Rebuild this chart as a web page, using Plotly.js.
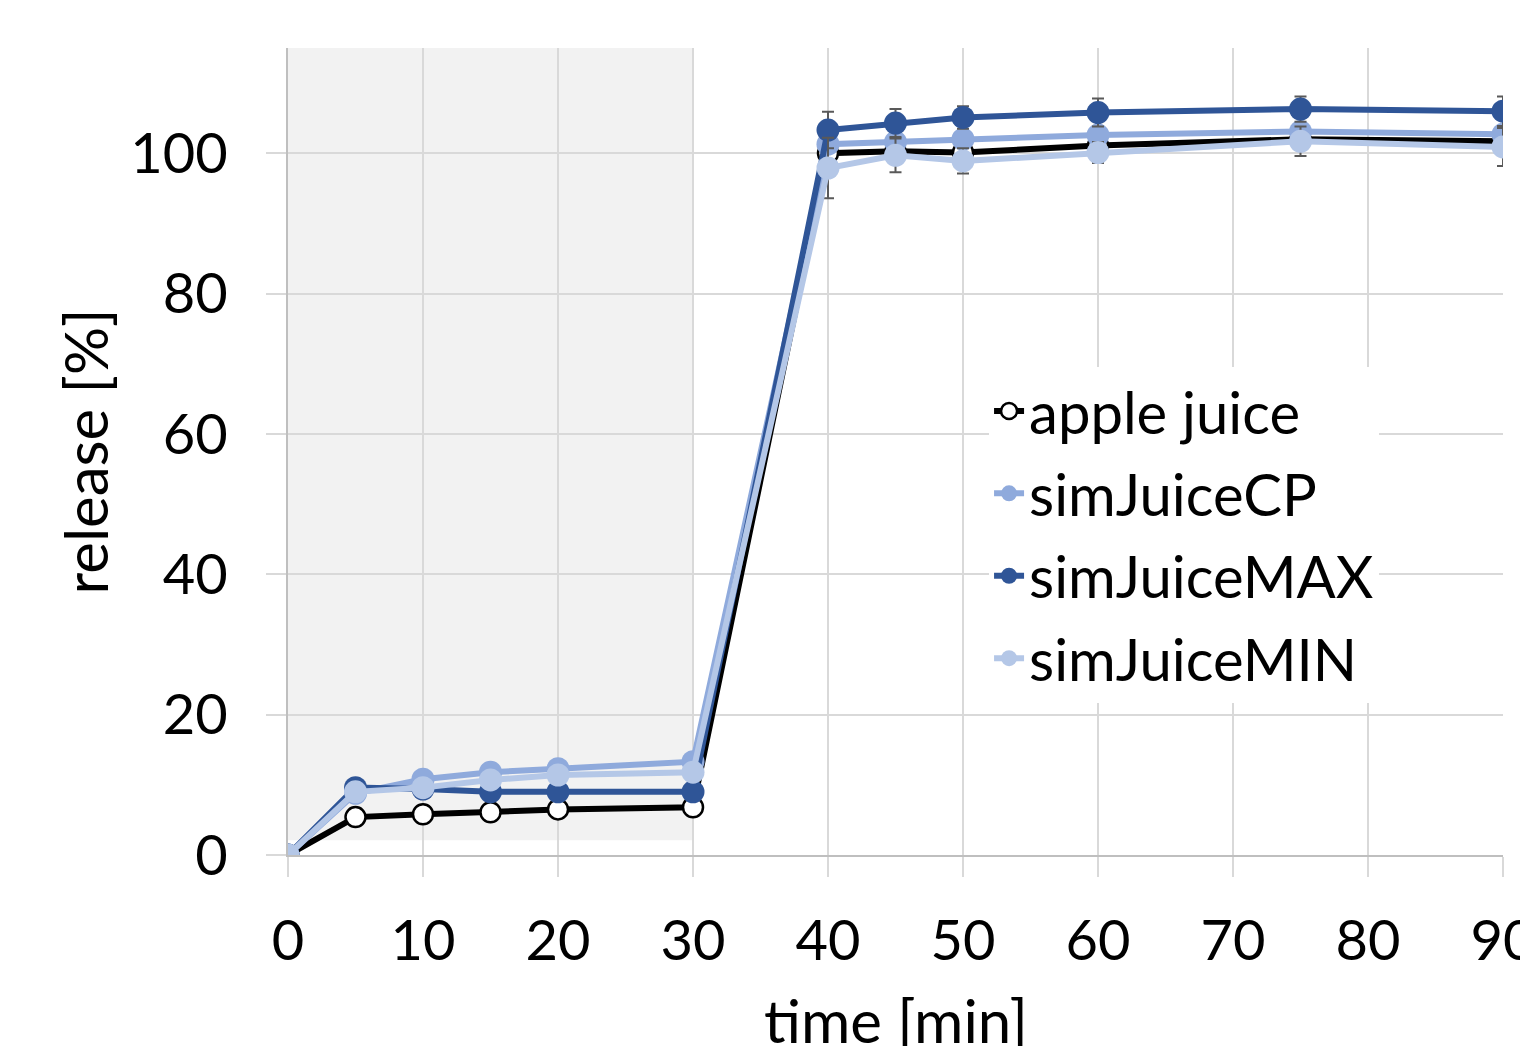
<!DOCTYPE html>
<html>
<head>
<meta charset="utf-8">
<script src="https://cdn.plot.ly/plotly-3.0.1.min.js"></script>
<style>html,body{margin:0;padding:0;background:#fff;overflow:hidden}#chart{width:1520px;height:1046px}</style>
</head>
<body>
<div id="chart"></div>
<script>
const time = [0, 5, 10, 15, 20, 30, 40, 45, 50, 60, 75, 90];
const appleJuice = [0, 5.4, 5.8, 6.1, 6.5, 6.8, 100.0, 100.3, 100.1, 101.1, 102.0, 101.7];
const simJuiceCP = [0, 8.8, 10.8, 11.8, 12.3, 13.3, 101.3, 101.6, 102.0, 102.6, 103.1, 102.7];
const simJuiceMAX = [0, 9.6, 9.4, 9.0, 9.0, 9.0, 103.3, 104.3, 105.1, 105.8, 106.3, 106.0];
const simJuiceMIN = [0, 9.0, 9.6, 10.7, 11.4, 11.8, 97.9, 99.7, 98.9, 100.1, 101.7, 100.9];
const errApple = [0, 0, 0, 0, 0, 0, 0, 0, 0.8, 0, 0, 0];
const errCP = [0, 0, 0, 0, 0, 0, 0, 0, 0, 0, 0, 0];
const errMAX = [0, 0, 0, 0, 0, 0, 2.6, 2.0, 1.6, 2.0, 1.8, 2.1];
const errMIN = [0, 0, 0, 0, 0, 0, 4.3, 2.4, 1.8, 1.5, 2.1, 2.7];
const shadedPhase = [0, 30];
const xTicks = [0, 10, 20, 30, 40, 50, 60, 70, 80, 90];
const yTicks = [0, 20, 40, 60, 80, 100];
const xTitle = 'time [min]';
const yTitle = 'release [%]';

const FONT = 'Lato, "Open Sans", sans-serif';
const errStyle = (arr) => ({type: 'data', array: arr, visible: true, color: '#595959', thickness: 2, width: 6});

function series(name, y, err, color, fill, borderWidth, size) {
  return {
    x: time, y: y, name: name, legendgroup: name, type: 'scatter', mode: 'lines+markers',
    line: {color: color, width: 6},
    marker: {size: size, color: fill, line: {color: color, width: borderWidth}},
    error_y: errStyle(err)
  };
}

const traces = [
  series('apple juice', appleJuice, errApple, '#000000', '#ffffff', 2.5, 20),
  series('simJuiceCP', simJuiceCP, errCP, '#8faadc', '#8faadc', 0, 23),
  series('simJuiceMAX', simJuiceMAX, errMAX, '#2f5597', '#2f5597', 0, 23),
  series('simJuiceMIN', simJuiceMIN, errMIN, '#b4c7e7', '#b4c7e7', 0, 23)
];

const layout = {
  width: 1520, height: 1046,
  margin: {l: 288, r: 17, t: 48, b: 191},
  paper_bgcolor: '#ffffff', plot_bgcolor: '#ffffff',
  font: {family: FONT, size: 55, color: '#000'},
  showlegend: true,
  legend: {
    x: 0.577, y: 0.605, xanchor: 'left', yanchor: 'top',
    bgcolor: '#ffffff', borderwidth: 0,
    font: {family: FONT, size: 58, color: '#000'},
    tracegroupgap: 4
  },
  xaxis: {
    range: [0, 90], tickvals: xTicks, ticktext: xTicks.map(String),
    showgrid: true, gridcolor: '#d9d9d9', gridwidth: 2,
    zeroline: false, showline: true, linecolor: '#bfbfbf', linewidth: 2,
    ticks: 'outside', ticklen: 20, tickwidth: 2, tickcolor: '#d9d9d9',
    ticklabelstandoff: 16, ticklabeloverflow: 'allow',
    tickfont: {family: FONT, size: 56, color: '#000'},
    fixedrange: true
  },
  yaxis: {
    range: [0, 115], tickvals: yTicks, ticktext: yTicks.map(String),
    showgrid: true, gridcolor: '#d9d9d9', gridwidth: 2,
    zeroline: false, showline: true, linecolor: '#bfbfbf', linewidth: 2,
    ticks: 'outside', ticklen: 20, tickwidth: 2, tickcolor: '#d9d9d9',
    ticklabelstandoff: 27,
    tickfont: {family: FONT, size: 56, color: '#000'},
    title: {text: yTitle, font: {family: FONT, size: 60, color: '#000'}, standoff: 2},
    fixedrange: true
  },
  annotations: [{
    text: xTitle, xref: 'paper', yref: 'paper', x: 0.5, y: -0.205,
    xanchor: 'center', yanchor: 'middle', showarrow: false,
    font: {family: FONT, size: 60, color: '#000'}
  }],
  shapes: [{
    type: 'rect', xref: 'x', yref: 'y', layer: 'below',
    x0: shadedPhase[0], x1: shadedPhase[1], y0: 2.1, y1: 115,
    fillcolor: '#f2f2f2', line: {width: 0}
  }]
};

Plotly.newPlot('chart', traces, layout, {displayModeBar: false, staticPlot: true});
</script>
</body>
</html>
